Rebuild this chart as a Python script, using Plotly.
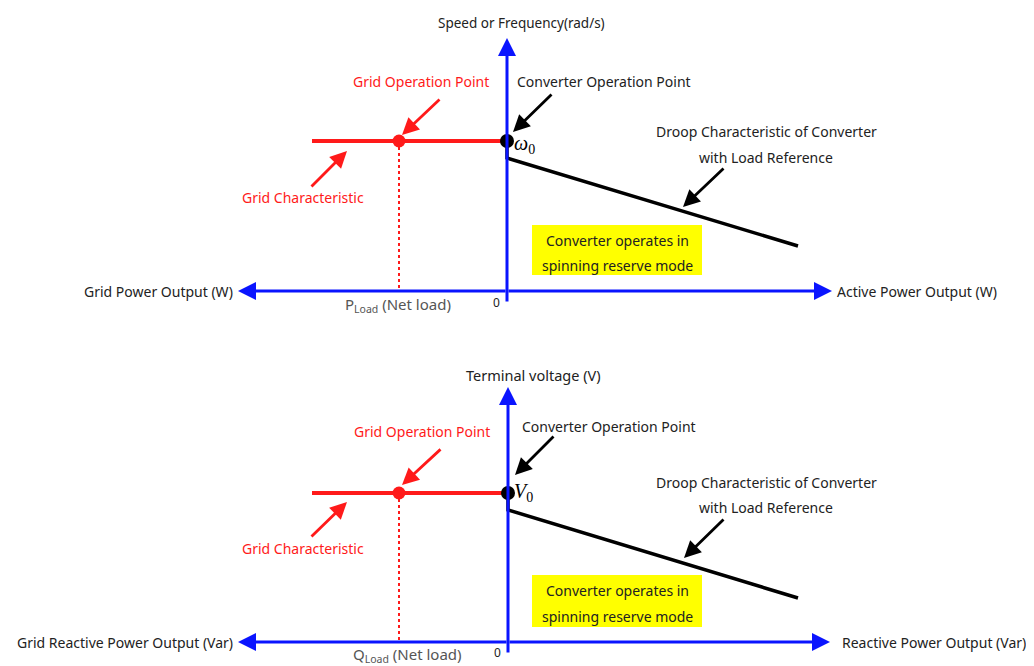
import plotly.graph_objects as go

# ---------------- data (diagram units: origin at axes crossing, 1 unit ~ 100 px) ----------------
# Panel 1 : active power / frequency
p1_ref = 1.50                       # omega_0 level
p1_grid_x = [-1.95, 0.0]            # grid characteristic (horizontal)
p1_grid_op_x = -1.08                # grid operation point (P_Load)
p1_droop_x = [0.0, 0.0, 2.91]       # converter droop characteristic
p1_droop_y = [1.50, 1.33, 0.45]
p1_haxis = [-2.69, 3.25]            # horizontal axis extent (left, right)
p1_vaxis = [-0.12, 2.53]            # vertical axis extent (bottom, top)
p1_box = [0.25, 1.95, 0.16, 0.66]   # x0, x1, y0, y1

# Panel 2 : reactive power / voltage
p2_ref = 1.49                       # V_0 level
p2_grid_x = [-1.96, 0.0]
p2_grid_op_x = -1.09
p2_droop_x = [0.0, 0.0, 2.90]
p2_droop_y = [1.49, 1.32, 0.44]
p2_haxis = [-2.70, 3.22]
p2_vaxis = [-0.12, 2.55]
p2_box = [0.24, 1.94, 0.15, 0.67]

# arrows: (tail_x, tail_y, tip_x, tip_y)
p1_arrows = {
    "conv": (0.46, 1.98, 0.06, 1.59),
    "gridop": (-0.66, 1.93, -1.05, 1.56),
    "gridchar": (-1.97, 1.03, -1.60, 1.40),
    "droop": (2.18, 1.24, 1.76, 0.84),
}
p2_arrows = {
    "conv": (0.47, 2.07, 0.07, 1.67),
    "gridop": (-0.66, 1.94, -1.06, 1.57),
    "gridchar": (-1.98, 1.04, -1.61, 1.40),
    "droop": (2.17, 1.24, 1.76, 0.84),
}

# texts: (text, x, y, xanchor, color, size, family)
SANS = "Noto Sans"
SERIF = "Liberation Serif"
DARK = "#222222"
GRAY = "#555555"
RED = "#ff1a1a"
p1_texts = [
    ("Speed or Frequency(rad/s)", 0.14, 2.68, "center", DARK, 13.5, SANS),
    ("Grid Operation Point", -0.86, 2.10, "center", RED, 14, SANS),
    ("Converter Operation Point", 0.08, 2.10, "left", DARK, 14, SANS),
    ("<i>ω</i><sub>0</sub>", 0.05, 1.47, "left", "#000000", 20, SERIF),
    ("Droop Characteristic of Converter", 2.59, 1.60, "center", DARK, 14, SANS),
    ("with Load Reference", 2.59, 1.34, "center", DARK, 14, SANS),
    ("Grid Characteristic", -2.04, 0.94, "center", RED, 14, SANS),
    ("Converter operates in", 1.10, 0.51, "center", DARK, 14, SANS),
    ("spinning reserve mode", 1.10, 0.26, "center", DARK, 14, SANS),
    ("Grid Power Output (W)", -2.72, 0.0, "right", DARK, 14, SANS),
    ("Active Power Output (W)", 3.28, 0.0, "left", DARK, 14, SANS),
    ("0", -0.11, -0.11, "center", DARK, 12, SANS),
    ("P<sub>Load</sub> (Net load)", -1.09, -0.14, "center", GRAY, 15, SANS),
]
p2_texts = [
    ("Terminal voltage (V)", 0.25, 2.67, "center", DARK, 14.5, SANS),
    ("Grid Operation Point", -0.86, 2.11, "center", RED, 14, SANS),
    ("Converter Operation Point", 0.12, 2.16, "left", DARK, 14, SANS),
    ("<i>V</i><sub>0</sub>", 0.04, 1.50, "left", "#000000", 20, SERIF),
    ("Droop Characteristic of Converter", 2.58, 1.60, "center", DARK, 14, SANS),
    ("with Load Reference", 2.58, 1.35, "center", DARK, 14, SANS),
    ("Grid Characteristic", -2.05, 0.94, "center", RED, 14, SANS),
    ("Converter operates in", 1.09, 0.52, "center", DARK, 14, SANS),
    ("spinning reserve mode", 1.09, 0.26, "center", DARK, 14, SANS),
    ("Grid Reactive Power Output (Var)", -2.73, 0.0, "right", DARK, 14, SANS),
    ("Reactive Power Output (Var)", 3.32, 0.0, "left", DARK, 14, SANS),
    ("0", -0.11, -0.10, "center", DARK, 12, SANS),
    ("Q<sub>Load</sub> (Net load)", -1.01, -0.13, "center", GRAY, 15, SANS),
]

# ---------------- figure ----------------
BLUE = "#0a14ff"
fig = go.Figure()
shapes = []
annotations = []


def build_panel(xr, yr, ref, grid_x, grid_op_x, droop_x, droop_y, haxis, vaxis, box, arrows, texts):
    # yellow box
    shapes.append(dict(type="rect", xref=xr, yref=yr, x0=box[0], x1=box[1], y0=box[2], y1=box[3],
                       fillcolor="#ffff00", line=dict(width=0), layer="below"))
    # blue axes (arrows)
    for tip in (haxis[0], haxis[1]):
        annotations.append(dict(xref=xr, yref=yr, axref=xr, ayref=yr, x=tip, y=0, ax=0, ay=0,
                                text="", showarrow=True, arrowhead=2, arrowsize=1.2,
                                arrowwidth=3, arrowcolor=BLUE, standoff=0))
    annotations.append(dict(xref=xr, yref=yr, axref=xr, ayref=yr, x=0, y=vaxis[1], ax=0, ay=vaxis[0],
                            text="", showarrow=True, arrowhead=2, arrowsize=1.2,
                            arrowwidth=3, arrowcolor=BLUE, standoff=0))
    # dotted projection to net load
    fig.add_trace(go.Scatter(x=[grid_op_x, grid_op_x], y=[ref, 0], mode="lines", xaxis=xr, yaxis=yr,
                             line=dict(color=RED, width=2, dash="dot"), hoverinfo="skip"))
    # grid characteristic
    fig.add_trace(go.Scatter(x=grid_x, y=[ref, ref], mode="lines", xaxis=xr, yaxis=yr,
                             line=dict(color=RED, width=4), hoverinfo="skip"))
    # droop characteristic
    fig.add_trace(go.Scatter(x=droop_x, y=droop_y, mode="lines", xaxis=xr, yaxis=yr,
                             line=dict(color="#000000", width=3.5), hoverinfo="skip"))
    # operation points
    fig.add_trace(go.Scatter(x=[grid_op_x], y=[ref], mode="markers", xaxis=xr, yaxis=yr,
                             marker=dict(color=RED, size=13), hoverinfo="skip"))
    fig.add_trace(go.Scatter(x=[grid_x[1]], y=[ref], mode="markers", xaxis=xr, yaxis=yr,
                             marker=dict(color="#000000", size=14), hoverinfo="skip"))
    # pointer arrows
    colors = {"conv": "#000000", "gridop": RED, "gridchar": RED, "droop": "#000000"}
    for k, (tx, ty, hx, hy) in arrows.items():
        annotations.append(dict(xref=xr, yref=yr, axref=xr, ayref=yr, x=hx, y=hy, ax=tx, ay=ty,
                                text="", showarrow=True, arrowhead=2, arrowsize=1.2,
                                arrowwidth=2.8, arrowcolor=colors[k], standoff=0))
    # texts
    for (t, x, y, xa, c, s, fam) in texts:
        annotations.append(dict(xref=xr, yref=yr, x=x, y=y, text=t, showarrow=False,
                                xanchor=xa, yanchor="middle",
                                font=dict(color=c, size=s, family=fam)))


build_panel("x", "y", p1_ref, p1_grid_x, p1_grid_op_x, p1_droop_x, p1_droop_y,
            p1_haxis, p1_vaxis, p1_box, p1_arrows, p1_texts)
build_panel("x2", "y2", p2_ref, p2_grid_x, p2_grid_op_x, p2_droop_x, p2_droop_y,
            p2_haxis, p2_vaxis, p2_box, p2_arrows, p2_texts)

# page body has an 8 px margin, so the figure is 1026 x 658 placed at (8, 8)
FIG_W, FIG_H = 1026, 658
split = 333.0 / FIG_H
ax_common = dict(showgrid=False, zeroline=False, showticklabels=False, ticks="", showline=False,
                 fixedrange=True)
fig.update_layout(
    width=FIG_W, height=FIG_H, autosize=False,
    margin=dict(l=0, r=0, t=0, b=0),
    paper_bgcolor="white", plot_bgcolor="white",
    showlegend=False,
    xaxis=dict(domain=[0, 1], range=[-4.99, 5.27], anchor="y", **ax_common),
    yaxis=dict(domain=[split, 1], range=[-0.42, 2.83], anchor="x", **ax_common),
    xaxis2=dict(domain=[0, 1], range=[-5.00, 5.26], anchor="y2", **ax_common),
    yaxis2=dict(domain=[0, split], range=[-0.24, 3.09], anchor="x2", **ax_common),
    shapes=shapes,
    annotations=annotations,
)

fig.write_html("out.html")
